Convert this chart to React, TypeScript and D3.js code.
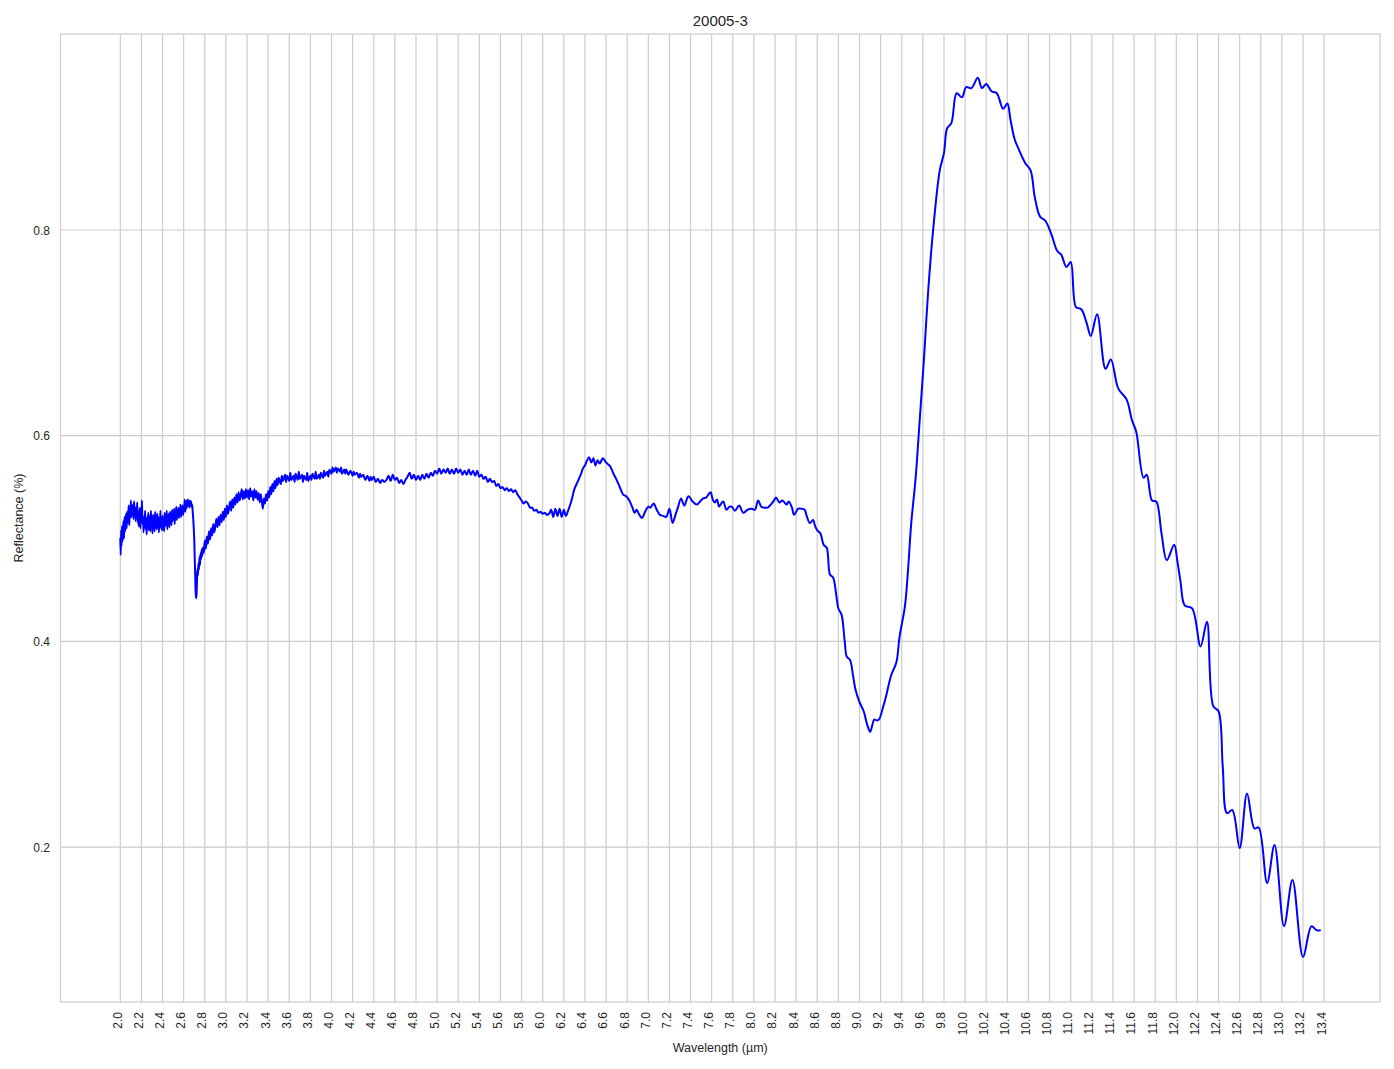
import React from 'react';
import * as d3 from 'd3';

const TITLE = '20005-3';
const X_LABEL = 'Wavelength (µm)';
const Y_LABEL = 'Reflectance (%)';

const xTickLabels = [
  '2.0','2.2','2.4','2.6','2.8','3.0','3.2','3.4','3.6','3.8','4.0','4.2','4.4','4.6','4.8',
  '5.0','5.2','5.4','5.6','5.8','6.0','6.2','6.4','6.6','6.8','7.0','7.2','7.4','7.6','7.8',
  '8.0','8.2','8.4','8.6','8.8','9.0','9.2','9.4','9.6','9.8','10.0','10.2','10.4','10.6','10.8',
  '11.0','11.2','11.4','11.6','11.8','12.0','12.2','12.4','12.6','12.8','13.0','13.2','13.4',
];
const yTickLabels = ['0.2', '0.4', '0.6', '0.8'];

type P = [number, number];

// 2.0 – 2.7 µm: noisy SWIR section
const swirNoisy: P[] = [
  [2.000,0.500],[2.004,0.484],[2.008,0.508],[2.012,0.493],[2.016,0.512],[2.020,0.497],[2.025,0.505],
  [2.030,0.517],[2.035,0.500],[2.040,0.521],[2.045,0.507],[2.050,0.514],[2.055,0.524],[2.060,0.510],
  [2.065,0.526],[2.070,0.515],[2.075,0.522],[2.080,0.532],[2.085,0.513],[2.090,0.527],[2.095,0.520],
  [2.100,0.537],[2.105,0.521],[2.110,0.530],[2.115,0.524],[2.120,0.533],[2.125,0.519],[2.130,0.536],
  [2.135,0.527],[2.140,0.531],[2.145,0.517],[2.150,0.529],[2.155,0.522],[2.160,0.535],[2.165,0.515],
  [2.170,0.526],[2.175,0.512],[2.180,0.523],[2.185,0.530],[2.190,0.510],[2.195,0.524],[2.200,0.517],
  [2.205,0.537],[2.210,0.514],[2.215,0.522],[2.220,0.506],[2.225,0.520],[2.230,0.512],[2.235,0.527],
  [2.240,0.509],[2.245,0.518],[2.250,0.504],[2.255,0.521],[2.260,0.513],[2.265,0.525],[2.270,0.508],
  [2.275,0.516],[2.280,0.522],[2.285,0.507],[2.290,0.527],[2.295,0.512],[2.300,0.519],[2.305,0.505],
  [2.310,0.523],[2.315,0.514],[2.320,0.520],[2.325,0.507],[2.330,0.526],[2.335,0.511],[2.340,0.518],
  [2.345,0.509],[2.350,0.524],[2.355,0.515],[2.360,0.521],[2.365,0.506],[2.370,0.519],[2.375,0.513],
  [2.380,0.527],[2.385,0.510],[2.390,0.516],[2.395,0.508],[2.400,0.522],[2.405,0.514],[2.410,0.519],
  [2.415,0.507],[2.420,0.525],[2.425,0.512],[2.430,0.520],[2.435,0.515],[2.440,0.527],[2.445,0.509],
  [2.450,0.521],[2.455,0.516],[2.460,0.524],[2.465,0.511],[2.470,0.526],[2.475,0.518],[2.480,0.523],
  [2.485,0.513],[2.490,0.528],[2.495,0.517],[2.500,0.525],[2.505,0.519],[2.510,0.529],[2.515,0.514],
  [2.520,0.526],[2.525,0.520],[2.530,0.531],[2.535,0.518],[2.540,0.527],[2.545,0.522],[2.550,0.530],
  [2.555,0.520],[2.560,0.529],[2.565,0.524],[2.570,0.533],[2.575,0.521],[2.580,0.528],[2.585,0.525],
  [2.590,0.532],[2.595,0.523],[2.600,0.531],[2.605,0.527],[2.610,0.538],[2.615,0.526],[2.620,0.535],
  [2.625,0.529],[2.630,0.537],[2.635,0.531],[2.640,0.538],[2.645,0.532],[2.650,0.536],[2.655,0.530],
  [2.660,0.537],[2.665,0.533],[2.670,0.536],[2.675,0.531],[2.680,0.533],[2.685,0.527],[2.690,0.520],
];

// 2.7 – 3.5 µm: water absorption dip and recovery
const waterDip: P[] = [
  [2.700,0.500],[2.705,0.480],[2.710,0.462],[2.715,0.445],[2.720,0.442],[2.725,0.455],[2.730,0.470],
  [2.735,0.464],[2.740,0.476],[2.745,0.470],[2.750,0.482],[2.755,0.474],[2.760,0.486],[2.765,0.480],
  [2.770,0.489],[2.775,0.483],[2.780,0.491],[2.790,0.486],[2.800,0.498],[2.810,0.490],[2.820,0.502],
  [2.830,0.495],[2.840,0.507],[2.850,0.499],[2.860,0.510],[2.870,0.503],[2.880,0.514],[2.890,0.506],
  [2.900,0.512],[2.910,0.519],[2.920,0.511],[2.930,0.521],[2.940,0.513],[2.950,0.523],[2.960,0.516],
  [2.970,0.526],[2.980,0.518],[2.990,0.529],[3.000,0.521],[3.010,0.532],[3.020,0.524],[3.030,0.530],
  [3.040,0.536],[3.050,0.527],[3.060,0.538],[3.070,0.530],[3.080,0.540],[3.090,0.533],[3.100,0.543],
  [3.110,0.535],[3.120,0.545],[3.130,0.537],[3.140,0.542],[3.150,0.548],[3.160,0.538],[3.170,0.546],
  [3.180,0.539],[3.190,0.548],[3.200,0.540],[3.210,0.547],[3.220,0.538],[3.230,0.549],[3.240,0.541],
  [3.250,0.546],[3.260,0.537],[3.270,0.548],[3.280,0.540],[3.290,0.546],[3.300,0.538],[3.310,0.544],
  [3.320,0.535],[3.330,0.543],[3.340,0.536],[3.350,0.529],[3.360,0.539],[3.370,0.534],[3.380,0.543],
  [3.390,0.537],[3.400,0.546],[3.410,0.540],[3.420,0.550],[3.430,0.543],[3.440,0.553],[3.450,0.546],
  [3.460,0.556],[3.470,0.549],[3.480,0.558],[3.490,0.552],
];

// 3.5 – 6.2 µm: broad plateau
const plateau: P[] = [
  [3.50,0.559],[3.52,0.553],[3.53,0.561],[3.54,0.556],[3.56,0.562],[3.57,0.555],[3.58,0.561],
  [3.60,0.556],[3.61,0.564],[3.62,0.557],[3.64,0.561],[3.65,0.555],[3.66,0.563],[3.68,0.557],
  [3.69,0.565],[3.70,0.558],[3.72,0.562],[3.73,0.555],[3.74,0.561],[3.76,0.557],[3.77,0.564],
  [3.78,0.556],[3.80,0.561],[3.81,0.557],[3.82,0.563],[3.84,0.558],[3.85,0.565],[3.86,0.558],
  [3.88,0.562],[3.89,0.558],[3.90,0.564],[3.92,0.559],[3.93,0.566],[3.94,0.561],[3.96,0.565],
  [3.97,0.560],[3.98,0.567],[4.00,0.563],[4.01,0.569],[4.02,0.565],[4.04,0.569],[4.05,0.564],
  [4.06,0.568],[4.08,0.565],[4.09,0.569],[4.10,0.563],[4.12,0.567],[4.13,0.563],[4.14,0.567],
  [4.16,0.562],[4.18,0.566],[4.20,0.561],[4.21,0.565],[4.22,0.562],[4.24,0.564],[4.26,0.559],
  [4.27,0.563],[4.28,0.560],[4.30,0.562],[4.32,0.557],[4.34,0.561],[4.36,0.556],[4.37,0.560],
  [4.38,0.557],[4.40,0.560],[4.42,0.555],[4.44,0.558],[4.46,0.554],[4.48,0.557],[4.50,0.555],
  [4.52,0.557],[4.54,0.561],[4.56,0.556],[4.58,0.562],[4.60,0.557],[4.62,0.559],[4.64,0.554],
  [4.66,0.557],[4.68,0.553],[4.70,0.557],[4.72,0.560],[4.74,0.564],[4.76,0.558],[4.78,0.562],
  [4.80,0.557],[4.82,0.561],[4.84,0.557],[4.86,0.562],[4.88,0.558],[4.90,0.563],[4.92,0.559],
  [4.94,0.564],[4.96,0.561],[4.98,0.566],[5.00,0.563],[5.02,0.568],[5.04,0.563],[5.06,0.567],
  [5.08,0.564],[5.10,0.568],[5.12,0.563],[5.14,0.567],[5.16,0.563],[5.18,0.568],[5.20,0.564],
  [5.22,0.567],[5.24,0.562],[5.26,0.566],[5.28,0.562],[5.30,0.567],[5.32,0.562],[5.34,0.566],
  [5.36,0.561],[5.38,0.566],[5.40,0.560],[5.42,0.562],[5.44,0.558],[5.46,0.560],[5.48,0.555],
  [5.50,0.558],[5.52,0.555],[5.54,0.556],[5.56,0.551],[5.58,0.553],[5.60,0.549],[5.62,0.550],
  [5.64,0.547],[5.66,0.549],[5.68,0.546],[5.70,0.548],[5.72,0.545],[5.74,0.547],[5.76,0.543],
  [5.78,0.540],[5.80,0.537],[5.82,0.534],[5.84,0.536],[5.86,0.534],[5.88,0.530],[5.90,0.530],
  [5.92,0.527],[5.94,0.528],[5.96,0.525],[5.98,0.526],[6.00,0.524],[6.02,0.525],[6.04,0.523],
  [6.06,0.524],[6.08,0.528],[6.10,0.521],[6.12,0.529],[6.14,0.522],[6.16,0.529],[6.18,0.521],
];

// 6.2 – 9.5 µm: carbonate feature and Christiansen minimum
const carbonate: P[] = [
  [6.20,0.528],[6.22,0.522],[6.24,0.527],[6.27,0.536],[6.30,0.548],[6.33,0.555],[6.36,0.562],
  [6.38,0.568],[6.40,0.571],[6.42,0.576],[6.44,0.579],[6.46,0.574],[6.48,0.578],[6.50,0.571],
  [6.52,0.576],[6.54,0.573],[6.57,0.578],[6.60,0.574],[6.62,0.572],[6.64,0.570],[6.67,0.563],
  [6.70,0.557],[6.73,0.550],[6.76,0.543],[6.79,0.541],[6.82,0.537],[6.85,0.530],[6.87,0.525],
  [6.89,0.528],[6.91,0.524],[6.94,0.520],[6.97,0.526],[7.00,0.531],[7.02,0.530],[7.05,0.534],
  [7.08,0.528],[7.11,0.523],[7.14,0.522],[7.17,0.521],[7.20,0.529],[7.23,0.515],[7.26,0.524],
  [7.28,0.530],[7.31,0.539],[7.34,0.532],[7.38,0.541],[7.42,0.536],[7.46,0.533],[7.49,0.536],
  [7.52,0.539],[7.55,0.540],[7.57,0.543],[7.59,0.545],[7.61,0.538],[7.63,0.535],[7.65,0.538],
  [7.67,0.531],[7.69,0.534],[7.71,0.536],[7.74,0.528],[7.77,0.531],[7.79,0.531],[7.82,0.527],
  [7.86,0.532],[7.90,0.525],[7.94,0.528],[7.98,0.529],[8.01,0.528],[8.04,0.537],[8.07,0.531],
  [8.10,0.530],[8.13,0.530],[8.16,0.533],[8.19,0.537],[8.21,0.540],[8.24,0.535],[8.27,0.537],
  [8.31,0.533],[8.33,0.536],[8.36,0.530],[8.38,0.523],[8.40,0.526],[8.42,0.529],[8.45,0.529],
  [8.48,0.528],[8.50,0.522],[8.53,0.515],[8.56,0.518],[8.58,0.512],[8.60,0.508],[8.63,0.505],
  [8.66,0.494],[8.69,0.491],[8.72,0.465],[8.75,0.462],[8.78,0.445],[8.80,0.432],[8.83,0.426],
  [8.86,0.400],[8.88,0.385],[8.91,0.382],[8.94,0.366],[8.96,0.354],[9.00,0.341],[9.04,0.332],
  [9.07,0.320],[9.10,0.312],[9.12,0.318],[9.14,0.324],[9.17,0.323],[9.19,0.325],[9.22,0.335],
  [9.25,0.346],[9.30,0.367],[9.35,0.380],[9.38,0.405],[9.43,0.434],[9.46,0.470],[9.49,0.515],
];

// 9.5 – 13.4 µm: reststrahlen band
const reststrahlen: P[] = [
  [9.53,0.557],[9.57,0.615],[9.61,0.674],[9.65,0.740],[9.70,0.803],[9.76,0.858],[9.80,0.875],
  [9.83,0.899],[9.87,0.904],[9.92,0.933],[9.97,0.929],[10.01,0.939],[10.06,0.938],[10.12,0.948],
  [10.16,0.938],[10.20,0.942],[10.25,0.935],[10.30,0.933],[10.36,0.918],[10.40,0.923],[10.43,0.907],
  [10.47,0.888],[10.51,0.878],[10.57,0.865],[10.62,0.858],[10.66,0.832],[10.71,0.813],[10.76,0.809],
  [10.82,0.795],[10.87,0.780],[10.91,0.776],[10.96,0.764],[11.00,0.769],[11.05,0.725],[11.10,0.723],
  [11.15,0.710],[11.19,0.697],[11.25,0.718],[11.33,0.665],[11.38,0.674],[11.45,0.646],[11.53,0.635],
  [11.58,0.615],[11.62,0.604],[11.69,0.559],[11.72,0.562],[11.77,0.537],[11.81,0.536],[11.86,0.505],
  [11.91,0.479],[11.98,0.494],[12.01,0.478],[12.04,0.458],[12.08,0.435],[12.15,0.432],[12.23,0.395],
  [12.29,0.419],[12.35,0.337],[12.40,0.332],[12.44,0.278],[12.48,0.233],[12.53,0.236],[12.60,0.199],
  [12.67,0.252],[12.74,0.218],[12.78,0.219],[12.86,0.165],[12.93,0.202],[13.02,0.123],[13.10,0.168],
  [13.20,0.093],[13.28,0.123],[13.33,0.119],[13.36,0.119],
];

const spectrum: P[] = [...swirNoisy, ...waterDip, ...plateau, ...carbonate, ...reststrahlen];

const FONT = "'Liberation Sans', Arial, Helvetica, sans-serif";
const TEXT = '#262626';
const GRID = '#cccccc';

export default function App() {
  const W = 1394;
  const H = 1069;
  const left = 60.5, right = 1380, top = 34, bottom = 1002;

  const x = d3.scaleLinear().domain([1.4337, 13.929]).range([left, right]);
  const y = d3.scaleLinear().domain([0.0493, 0.9906]).range([bottom, top]);

  const line = d3
    .line<P>()
    .x((d) => x(d[0]))
    .y((d) => y(d[1]))
    .curve(d3.curveCatmullRom.alpha(0.5));

  const xTicks = xTickLabels.map((s) => ({ v: +s, s }));
  const yTicks = yTickLabels.map((s) => ({ v: +s, s }));

  return (
    <svg
      width={W}
      height={H}
      style={{ position: 'absolute', left: 0, top: 0, background: '#fff' }}
      fontFamily={FONT}
    >
      <rect x={0} y={0} width={W} height={H} fill="#fff" />
      {xTicks.map((t) => (
        <line key={'gx' + t.s} x1={x(t.v)} x2={x(t.v)} y1={top} y2={bottom} stroke={GRID} strokeWidth={1.2} />
      ))}
      {yTicks.map((t) => (
        <line key={'gy' + t.s} x1={left} x2={right} y1={y(t.v)} y2={y(t.v)} stroke={GRID} strokeWidth={1.2} />
      ))}
      <rect x={left} y={top} width={right - left} height={bottom - top} fill="none" stroke={GRID} strokeWidth={1.2} />

      <path d={line(spectrum) || ''} fill="none" stroke="#0000ff" strokeWidth={2} strokeLinejoin="round" strokeLinecap="round" />

      {xTicks.map((t) => (
        <text
          key={'tx' + t.s}
          transform={`translate(${x(t.v)},${1012}) rotate(-90)`}
          textAnchor="end"
          dy={1.4}
          fontSize={12}
          fill={TEXT}
        >
          {t.s}
        </text>
      ))}
      {yTicks.map((t) => (
        <text key={'ty' + t.s} x={50} y={y(t.v)} dy={4.5} textAnchor="end" fontSize={12} fill={TEXT}>
          {t.s}
        </text>
      ))}

      <text x={(left + right) / 2} y={26} textAnchor="middle" fontSize={15} fill={TEXT}>
        {TITLE}
      </text>
      <text x={(left + right) / 2} y={1052} textAnchor="middle" fontSize={12.5} fill={TEXT}>
        {X_LABEL}
      </text>
      <text
        transform={`translate(23,${(top + bottom) / 2}) rotate(-90)`}
        textAnchor="middle"
        fontSize={12.5}
        fill={TEXT}
      >
        {Y_LABEL}
      </text>
    </svg>
  );
}
